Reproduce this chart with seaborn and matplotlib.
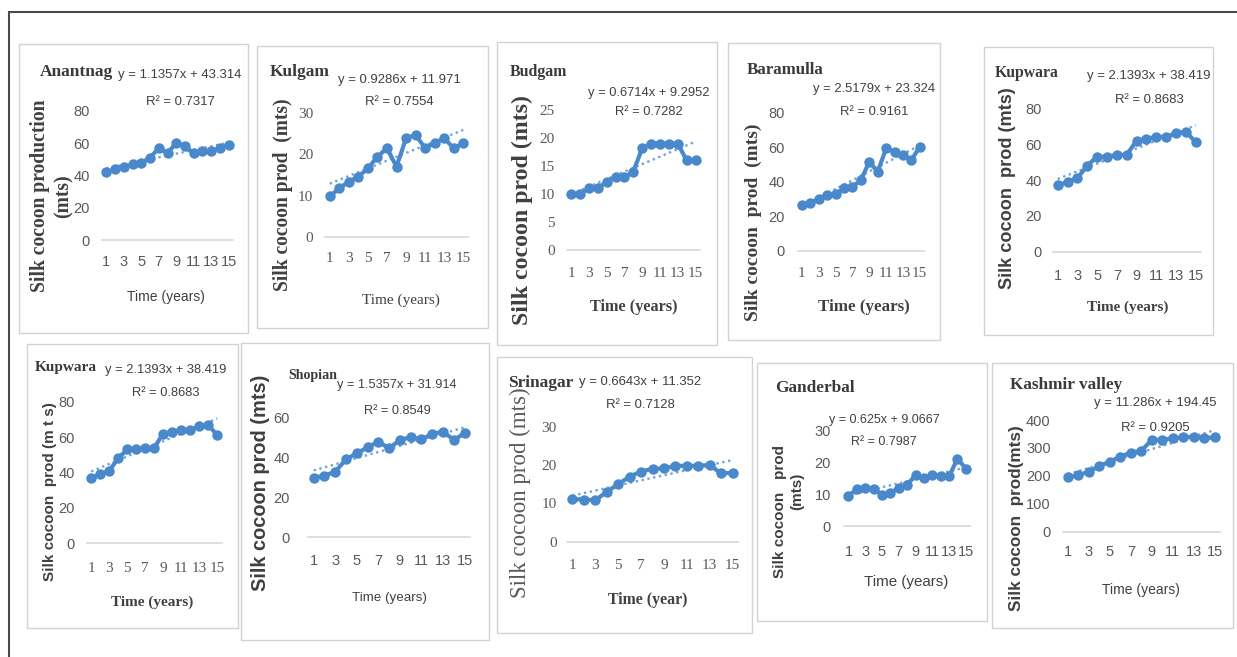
import numpy as np
import pandas as pd
import matplotlib
matplotlib.use("Agg")
import matplotlib.pyplot as plt
import seaborn as sns
from matplotlib.patches import Rectangle
from matplotlib.lines import Line2D

# ---- data: silk cocoon production (mts) over 15 years ----
years = list(range(1, 16))
anantnag = [42, 44, 45, 47, 48, 51, 57, 54, 60, 58, 54, 55, 55, 57, 59]
kulgam = [9.8, 11.8, 13.4, 14.6, 16.6, 19.4, 21.5, 17, 23.9, 24.7, 21.5, 22.7, 23.9, 21.5, 22.7]
budgam = [10, 10, 11, 11, 12.2, 13, 13, 14, 18.2, 19, 19, 19, 19, 16, 16]
baramulla = [26.6, 27.9, 29.9, 32.4, 33, 36.2, 37.2, 41, 51.6, 45.8, 59.3, 57.4, 55.5, 52.6, 60.3]
kupwara = [37, 39, 41, 48, 53, 53, 54, 54, 62, 63, 64, 64, 66, 67, 61]
shopian = [29.8, 30.8, 32.8, 39, 42, 45, 47.8, 44.5, 48.7, 50, 49, 51.7, 52.8, 48.7, 52]
srinagar = [11.1, 11, 10.8, 13, 15, 17, 18.3, 19, 19.1, 19.8, 19.8, 19.8, 20, 17.8, 18]
ganderbal = [9.6, 11.5, 12, 11.8, 9.8, 10.5, 12, 13, 16, 15, 16, 15.8, 15.6, 21.2, 18.1]
kashmir = [195, 203, 215, 235, 251, 269, 283, 290, 329, 329, 335, 338, 340, 335, 338]

# linear trend lines (slope, intercept, R²)
trend_slope = [1.1357, 0.9286, 0.6714, 2.5179, 2.1393, 2.1393, 1.5357, 0.6643, 0.625, 11.286]
trend_icept = [43.314, 11.971, 9.2952, 23.324, 38.419, 38.419, 31.914, 11.352, 9.0667, 194.45]
trend_r2 = ["0.7317", "0.7554", "0.7282", "0.9161", "0.8683", "0.8683", "0.8549", "0.7128", "0.7987", "0.9205"]
eq_text = ["y = 1.1357x + 43.314", "y = 0.9286x + 11.971", "y = 0.6714x + 9.2952",
           "y = 2.5179x + 23.324", "y = 2.1393x + 38.419", "y = 2.1393x + 38.419",
           "y = 1.5357x + 31.914", "y = 0.6643x + 11.352", "y = 0.625x + 9.0667",
           "y = 11.286x + 194.45"]

titles = ["Anantnag", "Kulgam", "Budgam", "Baramulla", "Kupwara", "Kupwara",
          "Shopian", "Srinagar", "Ganderbal", "Kashmir valley"]
series = [anantnag, kulgam, budgam, baramulla, kupwara, kupwara,
          shopian, srinagar, ganderbal, kashmir]
y_max = [80, 30, 25, 80, 80, 80, 60, 30, 30, 400]
y_step = [20, 10, 5, 20, 20, 20, 20, 10, 10, 100]
y_labels = ["Silk cocoon production\n(mts)", "Silk cocoon prod  (mts)", "Silk cocoon prod (mts)",
            "Silk cocoon  prod  (mts)", "Silk cocoon  prod (mts)", "Silk cocoon  prod (m t s)",
            "Silk cocoon prod (mts)", "Silk cocoon prod (mts)", "Silk cocoon   prod",
            "Silk cocoon  prod(mts)"]
x_labels = ["Time (years)"] * 7 + ["Time (year)", "Time (years)", "Time (years)"]

# ---- layout (pixel geometry of the 1237x657 canvas) ----
W, H, DPI = 1237, 657, 100
BLUE = "#4a88cc"
BLUE_T = "#6fa3da"
DARK = "#404040"
GREY = "#595959"
SANS = ["Liberation Sans Narrow", "Liberation Sans", "DejaVu Sans"]
SERIF = ["Liberation Serif", "DejaVu Serif"]

# frame box (x0, y0, x1, y1)
frames = [(19, 44, 248, 333), (257, 46, 488, 328), (497, 42, 717, 345), (728, 43, 940, 340),
          (984, 47, 1213, 335), (27, 344, 238, 628), (241, 343, 489, 640), (497, 357, 752, 633),
          (757, 363, 987, 621), (992, 363, 1233, 628)]
# plot area: x left, x right, y of zero, y of max
areas = [(102, 233, 240, 111), (325, 468, 237, 113), (566.7, 700, 250, 110), (797.7, 924, 251, 112.7),
         (1052.7, 1200.7, 251.7, 108.3), (86.7, 221.7, 543.3, 401.7), (308.3, 470, 537.3, 417.3),
         (566.7, 738.3, 541.7, 426.7), (844.3, 970, 526, 430.7), (1062.7, 1220, 531.7, 420)]
xtick_cy = [263, 260, 275, 275, 276.7, 570, 561.7, 566.7, 553.3, 553.3]
ytick_right = [90, 313.3, 555, 785, 1041.7, 75, 290, 556.7, 831, 1050.7]
xtick_font = ["sans", "serif", "serif", "serif", "sans", "serif", "sans", "serif", "sans", "sans"]
ytick_font = ["sans", "serif", "serif", "sans", "sans", "sans", "sans", "serif", "sans", "sans"]
# title: left x, center y, width, enlargement
title_pos = [(40, 72, 67, 1.1), (270, 72, 57, 1.1), (510, 72, 52, 1.1), (747, 70, 70, 1.1),
             (995, 73, 58, 1.1), (35, 368, 62, 1.0), (288, 375, 49, 1.0), (508, 383, 62, 1.1),
             (775, 388, 72, 1.1), (1010, 385, 107, 1.05)]
# equation: center x, y line 1, y line 2, width
eq_pos = [(180, 75, 102, 117), (399, 80, 102, 116), (649, 93, 112, 115), (874, 89, 112, 117),
          (1149, 76, 100, 117), (166, 370, 393, 115), (397, 385, 411, 114), (640, 382, 405, 116),
          (884, 420, 442, 105), (1155, 403, 428, 116)]
# y label: center x, center y, length (or fixed size in pt when given as a tuple), font, weight
ylab_pos = [(52, 196, 193, "serif", "bold"), (283, 195, 193, "serif", "bold"),
            (522, 210, 230, "serif", "bold"), (753, 222, 197, "serif", "bold"),
            (1008, 188, 202, "sans", "bold"), (50, 492, (11,), "sans", "bold"),
            (260, 483, 217, "sans", "bold"), (520, 493, 210, "serif", "normal"),
            (780, 511, (11,), "sans", "bold"), (1016, 518, 185, "sans", "bold")]
# x label: center x, center y, width, font, weight
xlab_pos = [(166, 297, 78, "sans", "normal"), (401, 300, 78, "serif", "normal"),
            (634, 307, 88, "serif", "bold"), (864, 307, 92, "serif", "bold"),
            (1128, 307, 82, "serif", "bold"), (152, 602, 83, "serif", "bold"),
            (389, 598, 75, "sans", "normal"), (648, 600, 80, "serif", "bold"),
            (906, 582, 85, "sans", "normal"), (1141, 590, 78, "sans", "normal")]

FAM = {"sans": SANS, "serif": SERIF}
PT = DPI / 72.0

sns.set_theme(style="white")
plt.rcParams["font.family"] = SANS

fig = plt.figure(figsize=(W / DPI, H / DPI), dpi=DPI)
fig.patch.set_facecolor("white")


def fx(px):
    return px / W


def fy(py):
    return 1 - py / H


def ptext(px, py, s, **kw):
    return fig.text(fx(px), fy(py), s, **kw)


# outer border
fig.add_artist(Line2D([fx(9), fx(1237)], [fy(12), fy(12)], color="#4a4a4a", lw=1.5))
fig.add_artist(Line2D([fx(9), fx(9)], [fy(12), fy(657)], color="#4a4a4a", lw=1.5))

fits = []      # (text, target length, direction, scale, max size, followers)

for i in range(10):
    fx0, fy0, fx1, fy1 = frames[i]
    fig.add_artist(Rectangle((fx(fx0), fy(fy1)), (fx1 - fx0) / W, (fy1 - fy0) / H,
                             transform=fig.transFigure, fill=False, ec="#d2d2d2", lw=1.0))

    x0, x1, yz, yt = areas[i]
    ax = fig.add_axes([fx(x0), fy(yz), (x1 - x0) / W, (yz - yt) / H])
    ax.patch.set_alpha(0)

    df = pd.DataFrame({"year": years, "prod": series[i]})
    trend = trend_slope[i] * np.asarray(years, dtype=float) + trend_icept[i]
    sns.lineplot(x=years, y=trend, ax=ax, color=BLUE_T, lw=1.7, linestyle=(0, (1, 1.5)),
                 clip_on=False)
    sns.lineplot(data=df, x="year", y="prod", ax=ax, color=BLUE, lw=3.0, marker="o",
                 markersize=7.5, markeredgewidth=0, clip_on=False)

    ax.set_xlim(0.5, 15.5)
    ax.set_ylim(0, y_max[i])
    ax.set_xticks(range(1, 16, 2))
    ax.set_yticks(np.arange(0, y_max[i] + 1, y_step[i]))
    ax.set_xlabel("")
    ax.set_ylabel("")
    ax.grid(False)
    for s in ("top", "right", "left"):
        ax.spines[s].set_visible(False)
    ax.spines["bottom"].set_color("#d9d9d9")
    ax.spines["bottom"].set_linewidth(1.2)

    xs = 10.5 if xtick_font[i] == "sans" else 11
    ys = 10.5 if ytick_font[i] == "sans" else 11
    ax.tick_params(axis="x", length=0, colors=GREY, labelsize=xs,
                   pad=max((xtick_cy[i] - yz - 8) / PT, 0))
    ax.tick_params(axis="y", length=0, colors=GREY, labelsize=ys,
                   pad=(x0 - ytick_right[i]) / PT)
    for lab in ax.get_xticklabels():
        lab.set_family(FAM[xtick_font[i]])
    for lab in ax.get_yticklabels():
        lab.set_family(FAM[ytick_font[i]])

    # panel title
    tx, ty, tw, tsc = title_pos[i]
    t = ptext(tx, ty, titles[i], family=SERIF, weight="bold", color="#3a3a3a",
              fontsize=11, ha="left", va="center")
    fits.append((t, tw, "w", tsc, 12.5, []))

    # trend equation and R²
    ex, ey1, ey2, ew = eq_pos[i]
    e1 = ptext(ex, ey1, eq_text[i], family=SANS, color=DARK, fontsize=10,
               ha="center", va="center")
    e2 = ptext(ex, ey2, "R² = " + trend_r2[i], family=SANS, color=DARK, fontsize=10,
               ha="center", va="center")
    fits.append((e1, ew, "w", 1.05, 20, [e2]))

    # axis titles
    lx, ly, ll, lf, lw_ = ylab_pos[i]
    fixed = isinstance(ll, tuple)
    yl = ptext(lx, ly, y_labels[i], family=FAM[lf], weight=lw_,
               color="#595959" if lw_ == "normal" else DARK,
               fontsize=ll[0] if fixed else 10,
               rotation=90, ha="center", va="center", multialignment="center")
    if not fixed:
        fits.append((yl, ll, "h", 1.0, 20, []))
    if i == 8:
        ptext(797, 491, "(mts)", family=SANS, weight="bold", color=DARK,
              fontsize=11, rotation=90, ha="center", va="center")

    bx, by, bw, bf, bwt = xlab_pos[i]
    xl = ptext(bx, by, x_labels[i], family=FAM[bf], weight=bwt, color=DARK, fontsize=10,
               ha="center", va="center")
    fits.append((xl, bw, "w", 1.0, 20, []))

# size each text run to its measured extent
fig.canvas.draw()
renderer = fig.canvas.get_renderer()
for t, target, direction, scale, cap, followers in fits:
    bb = t.get_window_extent(renderer)
    cur = bb.width if direction == "w" else bb.height
    if cur > 0:
        size = min(t.get_fontsize() * target / cur * scale, cap)
        t.set_fontsize(size)
        for f in followers:
            f.set_fontsize(size)

fig.savefig("out.png", dpi=DPI, facecolor="white")
